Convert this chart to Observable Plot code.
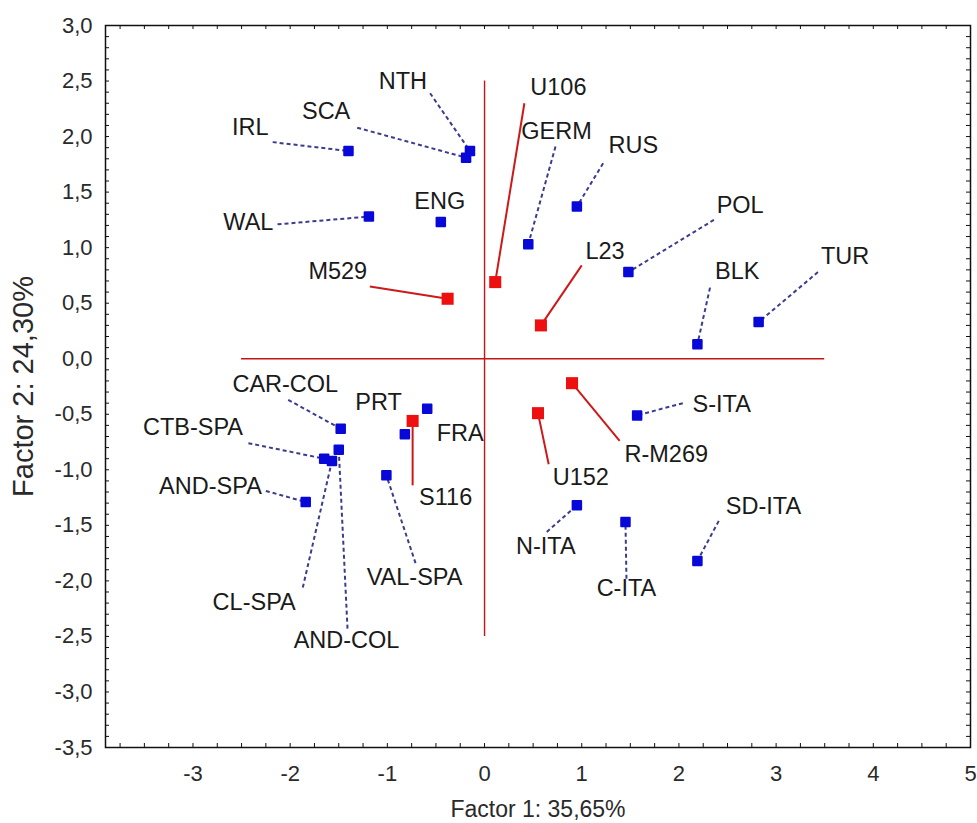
<!DOCTYPE html>
<html><head><meta charset="utf-8">
<script src="https://cdn.jsdelivr.net/npm/d3@7"></script>
<script src="https://cdn.jsdelivr.net/npm/@observablehq/plot@0.6"></script>
<style>body{margin:0;background:#fff;} svg{display:block}</style>
</head><body><div id="chart"></div>
<script>
// Populations (blue points)
const populations = ["IRL","NTH","SCA","WAL","ENG","GERM","RUS","POL","BLK","TUR","CAR-COL","AND-COL","CTB-SPA","CL-SPA","AND-SPA","PRT","FRA","VAL-SPA","S-ITA","N-ITA","C-ITA","SD-ITA"];
const popFactor1 = [-1.40,-0.15,-0.19,-1.19,-0.45,0.45,0.95,1.48,2.19,2.82,-1.48,-1.50,-1.65,-1.57,-1.84,-0.59,-0.82,-1.01,1.57,0.95,1.45,2.19];
const popFactor2 = [1.87,1.87,1.81,1.28,1.23,1.03,1.37,0.78,0.13,0.33,-0.63,-0.82,-0.90,-0.92,-1.29,-0.45,-0.68,-1.05,-0.51,-1.32,-1.47,-1.82];
const popLabelF1 = [-2.41,-0.84,-1.63,-2.43,-0.46,0.74,1.53,2.63,2.60,3.71,-2.05,-1.42,-3.00,-2.37,-2.82,-1.09,-0.25,-0.72,2.44,0.63,1.46,2.87];
const popLabelF2 = [2.08,2.50,2.23,1.23,1.42,2.05,1.92,1.38,0.79,0.92,-0.23,-2.54,-0.62,-2.19,-1.15,-0.39,-0.67,-1.97,-0.41,-1.69,-2.07,-1.33];
const popLeaderF1 = [-2.18,-0.56,-1.31,-2.13,null,0.73,1.22,2.36,2.32,3.43,-2.02,-1.41,-2.43,-1.87,-2.25,null,null,-0.71,2.04,0.64,1.46,2.41];
const popLeaderF2 = [1.95,2.39,2.08,1.21,null,1.91,1.76,1.25,0.64,0.78,-0.37,-2.43,-0.76,-2.06,-1.19,null,null,-1.84,-0.40,-1.56,-1.98,-1.46];

// Markers (red squares)
const markers = ["U106","L23","M529","S116","R-M269","U152"];
const markerFactor1 = [0.11,0.58,-0.38,-0.74,0.90,0.55];
const markerFactor2 = [0.69,0.30,0.54,-0.56,-0.22,-0.49];
const markerLabelF1 = [0.76,1.24,-1.51,-0.40,1.87,0.99];
const markerLabelF2 = [2.44,0.97,0.79,-1.25,-0.86,-1.07];
const markerLeaderF1 = [0.41,1.00,-1.18,-0.74,1.39,0.66];
const markerLeaderF2 = [2.30,0.84,0.65,-1.14,-0.74,-0.95];

// Reference cross lines
const crossF1 = [-2.5, 3.5];
const crossF2 = [-2.5, 2.5];

// Axis ticks
const xTicks = [-3,-2,-1,0,1,2,3,4,5];
const yTicks = [-3.5,-3.0,-2.5,-2.0,-1.5,-1.0,-0.5,0.0,0.5,1.0,1.5,2.0,2.5,3.0];
const xTitle = "Factor 1: 35,65%";
const yTitle = "Factor 2: 24,30%";

const popRows = populations.map((name,i)=>({name, x:popFactor1[i], y:popFactor2[i], tx:popLabelF1[i], ty:popLabelF2[i], lx:popLeaderF1[i], ly:popLeaderF2[i]}));
const markerRows = markers.map((name,i)=>({name, x:markerFactor1[i], y:markerFactor2[i], tx:markerLabelF1[i], ty:markerLabelF2[i], lx:markerLeaderF1[i], ly:markerLeaderF2[i]}));

const W = 977, H = 823, mL = 105, mR = 7, mT = 25, mB = 76;
const innerW = W - mL - mR, innerH = H - mT - mB;
const xMinor = d3.range(-3.75, 5.001, 0.25);
const yMinor = d3.range(-35, 31, 1).map(d => d / 10);
const fmtY = d => d.toFixed(1).replace(".", ",").replace("\u2212", "-");
const fmtX = d => String(d);
const tickColor = "#111";

const chart = Plot.plot({
  width: W, height: H,
  marginLeft: mL, marginRight: mR, marginTop: mT, marginBottom: mB,
  style: {fontFamily: "'Liberation Sans', Arial, sans-serif", background: "#fff", color: "#222"},
  x: {domain: [-3.9, 5]},
  y: {domain: [-3.5, 3]},
  marks: [
    Plot.ruleY([0], {x1: crossF1[0], x2: crossF1[1], stroke: "#c41414", strokeWidth: 1.4}),
    Plot.ruleX([0], {y1: crossF2[0], y2: crossF2[1], stroke: "#c41414", strokeWidth: 1.4}),
    Plot.link(popRows.filter(d => d.lx != null), {x1: "lx", y1: "ly", x2: "x", y2: "y", stroke: "#3c3c8e", strokeWidth: 2, strokeDasharray: "4,3"}),
    Plot.link(markerRows, {x1: "lx", y1: "ly", x2: "x", y2: "y", stroke: "#cc1a1a", strokeWidth: 2}),
    Plot.dot(popRows, {x: "x", y: "y", symbol: "square", r: 4.8, fill: "#0808d8", stroke: "#0808d8", strokeWidth: 2, strokeLinejoin: "round"}),
    Plot.dot(markerRows, {x: "x", y: "y", symbol: "square", r: 6.8, fill: "#ee1010"}),
    Plot.text(popRows, {x: "tx", y: "ty", text: "name", fontSize: 23.5, fill: "#1a1a1a"}),
    Plot.text(markerRows, {x: "tx", y: "ty", text: "name", fontSize: 23.5, fill: "#1a1a1a"}),
    Plot.frame({stroke: tickColor, strokeWidth: 1.5}),
    Plot.tickY(yMinor, {y: d => d, insetRight: innerW - 4, stroke: tickColor}),
    Plot.tickY(yMinor, {y: d => d, insetLeft: innerW - 4, stroke: tickColor}),
    Plot.tickX(xMinor, {x: d => d, insetTop: innerH - 4, stroke: tickColor}),
    Plot.tickX(xMinor, {x: d => d, insetBottom: innerH - 4, stroke: tickColor}),
    Plot.axisY(yTicks, {tickSize: 0, tickPadding: 13, tickFormat: fmtY, fontSize: 22, label: null, fill: "#2a2a2a"}),
    Plot.axisX(xTicks, {tickSize: 0, tickPadding: 18, tickFormat: fmtX, fontSize: 22, label: null, fill: "#2a2a2a"}),
    Plot.text([xTitle], {frameAnchor: "bottom", textAnchor: "middle", dy: 53, lineAnchor: "top", fontSize: 23, fill: "#2a2a2a"}),
    Plot.text([yTitle], {frameAnchor: "left", textAnchor: "middle", lineAnchor: "middle", dx: -82, rotate: -90, fontSize: 29, fill: "#2a2a2a"})
  ]
});
document.getElementById("chart").appendChild(chart);
</script>
</body></html>
